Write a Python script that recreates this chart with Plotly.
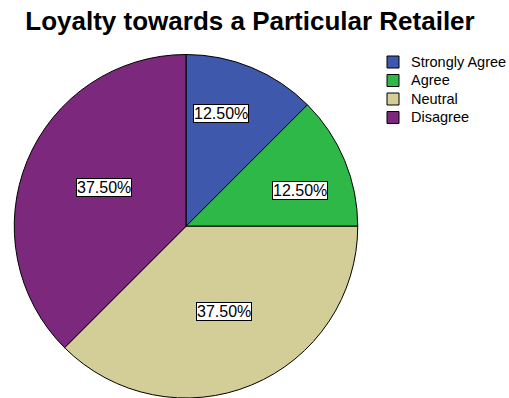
import math
import plotly.graph_objects as go

# Response categories and their share of respondents (%)
categories = ["Strongly Agree", "Agree", "Neutral", "Disagree"]
percentages = [12.5, 12.5, 37.5, 37.5]
slice_colors = ["#3E58AC", "#2EB848", "#D3CE97", "#7C287D"]

W, H = 509, 398
FONT = "Liberation Sans, Arial, sans-serif"

# pie placement in pixels
cx_px, cy_px, r_px = 186.0, 226.5, 172.0
dom_x = [(cx_px - r_px) / W, (cx_px + r_px) / W]
dom_y = [0.0, (H - (cy_px - r_px)) / H]

fig = go.Figure(
    go.Pie(
        labels=categories,
        values=percentages,
        sort=False,
        direction="clockwise",
        rotation=0,
        marker=dict(colors=slice_colors, line=dict(color="#000000", width=1)),
        textinfo="none",
        hoverinfo="label+percent",
        domain=dict(x=dom_x, y=dom_y),
        showlegend=False,
    )
)

# boxed percentage labels, placed along each slice's mid-angle
label_radius = [118.5, 120.0, 93.4, 90.4]
label_nudge = [(-10, 3.5), (3.5, -10), (2, 1), (2, 4)]
total = sum(percentages)
start = 0.0
for val, rad, (nx, ny) in zip(percentages, label_radius, label_nudge):
    mid = (start + val / 2) / total * 2 * math.pi
    start += val
    px = cx_px + rad * math.sin(mid)
    py = cy_px - rad * math.cos(mid)
    fig.add_annotation(
        x=px / W, y=1 - py / H, xref="paper", yref="paper",
        xanchor="center", yanchor="middle",
        text=f"{val / total * 100:.2f}%",
        showarrow=False,
        xshift=nx, yshift=ny,
        font=dict(family=FONT, size=16, color="#000000"),
        bgcolor="#FFFFFF", bordercolor="#000000", borderwidth=1, borderpad=0,
    )

# legend: colour swatch + category name for each slice
leg_x, leg_top, leg_step, sw = 387, 56, 18.5, 12
for i, (name, col) in enumerate(zip(categories, slice_colors)):
    top = leg_top + i * leg_step
    fig.add_shape(
        type="rect", xref="paper", yref="paper",
        x0=leg_x / W, x1=(leg_x + sw) / W,
        y0=1 - (top + sw) / H, y1=1 - top / H,
        fillcolor=col, line=dict(color="#000000", width=1),
    )
    fig.add_annotation(
        x=(leg_x + sw + 10) / W, y=1 - (top + sw / 2) / H,
        xref="paper", yref="paper", xanchor="left", yanchor="middle",
        text=name, showarrow=False,
        font=dict(family=FONT, size=14.5, color="#000000"),
    )

fig.update_layout(
    width=W, height=H,
    margin=dict(l=0, r=0, t=0, b=0),
    paper_bgcolor="#FFFFFF",
    plot_bgcolor="#FFFFFF",
    title=dict(
        text="<b>Loyalty towards a Particular Retailer</b>",
        x=250 / W, xanchor="center", xref="container",
        y=1 - 21 / H, yanchor="middle", yref="container",
        font=dict(family=FONT, size=26, color="#000000"),
    ),
    showlegend=False,
)

fig.write_html("out.html")
